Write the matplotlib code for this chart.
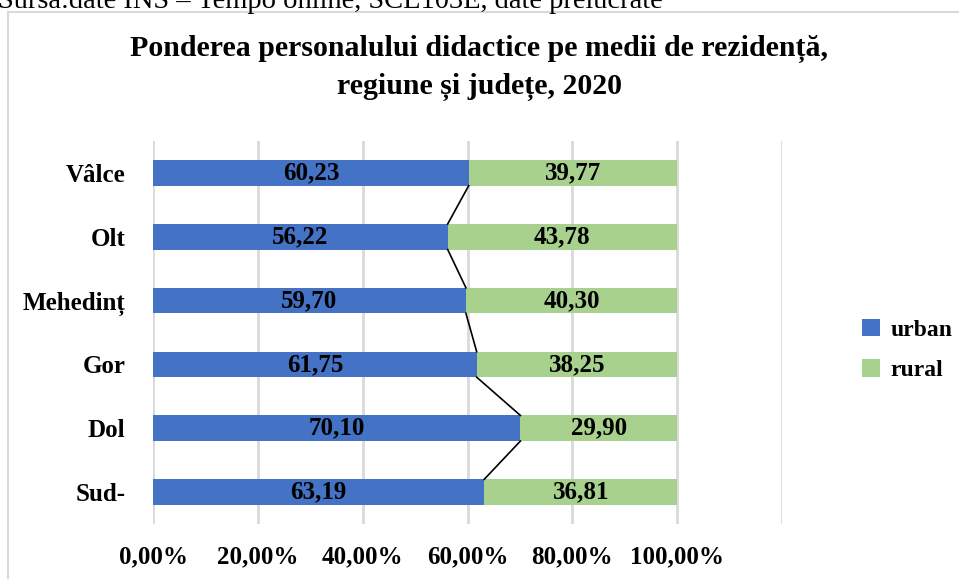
import numpy as np
import matplotlib
matplotlib.use('Agg')
from matplotlib import pyplot as plt
from matplotlib.patches import Rectangle

# data, top to bottom as in the chart
regions = ['Vâlce', 'Olt', 'Mehedinț', 'Gor', 'Dol', 'Sud-']
urban = [60.23, 56.22, 59.70, 61.75, 70.10, 63.19]
rural = [39.77, 43.78, 40.30, 38.25, 29.90, 36.81]
x_ticks = [0, 20, 40, 60, 80, 100]
x_labels = ['0,00%', '20,00%', '40,00%', '60,00%', '80,00%', '100,00%']

plt.rcParams['font.family'] = ['Liberation Serif', 'DejaVu Serif']

fig = plt.figure(figsize=(9.59, 5.79), dpi=100)

# source note, cut off by the top edge
fig.text(-0.002, 1 - 8 / 579, 'Sursa:date INS – Tempo online, SCL103E, date prelucrate',
         fontsize=20.5, va='baseline', ha='left')

# chart frame
fig.patches.append(Rectangle((8 / 959, -0.1), 1.1, 1 - 12 / 579 + 0.1,
                             transform=fig.transFigure, fill=False,
                             edgecolor='#d9d9d9', linewidth=1.5))

ax = fig.add_axes([153 / 959, 1 - 524 / 579, (782 - 153) / 959, (524 - 141) / 579])

y = np.arange(len(regions))[::-1]
h = 0.4
ax.barh(y, urban, height=h, color='#4472C4', label='urban', zorder=2)
ax.barh(y, rural, left=urban, height=h, color='#A9D18E', label='rural', zorder=2)

for yi, u, r in zip(y, urban, rural):
    ax.text(u / 2, yi, f'{u:.2f}'.replace('.', ','), ha='center', va='center',
            fontsize=18, fontweight='bold', zorder=3)
    ax.text(u + r / 2, yi, f'{r:.2f}'.replace('.', ','), ha='center', va='center',
            fontsize=18, fontweight='bold', zorder=3)

# series lines between the urban segments
for i in range(len(regions) - 1):
    ax.plot([urban[i], urban[i + 1]], [y[i] - h / 2, y[i + 1] + h / 2],
            color='black', linewidth=1.2, zorder=3)

ax.set_xlim(0, 120)
ax.set_ylim(-0.5, len(regions) - 0.5)
ax.set_xticks([0, 20, 40, 60, 80, 100, 120])
ax.set_xticklabels(x_labels + [''])
ax.set_yticks(y)
ax.set_yticklabels(regions)
ax.tick_params(axis='x', length=0, pad=15, labelsize=18)
ax.tick_params(axis='y', length=0, pad=20, labelsize=18)
for lab in ax.get_xticklabels() + ax.get_yticklabels():
    lab.set_fontweight('bold')
ax.grid(axis='x', color='#d9d9d9', linewidth=2, zorder=0)
for s in ax.spines.values():
    s.set_visible(False)

ax.legend(loc='center left', bbox_to_anchor=(862 / 959, 1 - 350 / 579),
          bbox_transform=fig.transFigure, frameon=False,
          prop={'weight': 'bold', 'size': 17}, handlelength=0.75, handleheight=0.75,
          handletextpad=0.45, labelspacing=0.8, borderpad=0, borderaxespad=0)

fig.text(0.5, 1 - 68 / 579, 'Ponderea personalului didactice pe medii de rezidență,\nregiune și județe, 2020',
         ha='center', va='center', fontsize=21.5, fontweight='bold', linespacing=1.45)

plt.savefig('out.png', dpi=100)
